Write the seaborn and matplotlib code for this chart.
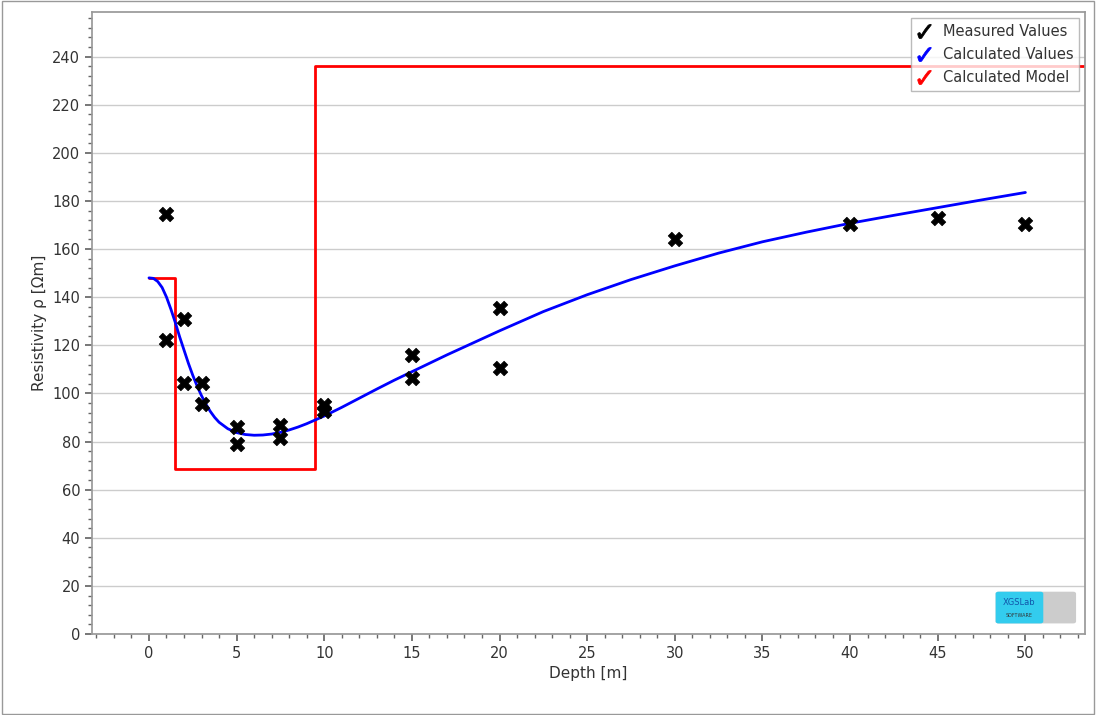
import matplotlib
matplotlib.use("Agg")
import matplotlib.pyplot as plt
import seaborn as sns
from matplotlib.lines import Line2D
from matplotlib.patches import FancyBboxPatch
from matplotlib.ticker import MultipleLocator

meas_x = [1, 1, 2, 2, 3, 3, 5, 5, 7.5, 7.5, 10, 10, 15, 15, 20, 20, 30, 40, 45, 50]
meas_y = [174.5, 122, 131, 104.5, 104.5, 95.5, 86, 79, 87, 81.5, 95, 92.5, 116, 106.5, 135.5, 110.5, 164, 170.5, 173, 170.5]
calc_x = [0, 0.25, 0.5, 0.75, 1, 1.25, 1.5, 1.75, 2, 2.25, 2.5, 2.75, 3, 3.25, 3.5, 3.75, 4, 4.5, 5, 5.5, 6,
          6.5, 7, 7.5, 8, 8.5, 9, 9.5, 10, 11, 12, 13, 14, 15, 17, 20, 22.5, 25, 27.5, 30, 32.5, 35, 37.5, 40,
          42.5, 45, 47.5, 50]
calc_y = [148, 147.8, 146.5, 144, 140, 135, 129.5, 123.5, 118, 112.5, 107.5, 103, 99, 95.5, 92.5, 90, 88, 85.3,
          83.7, 82.9, 82.6, 82.7, 83.1, 83.8, 84.8, 86, 87.4, 89, 90.6, 94.2, 98, 101.8, 105.5, 109, 116, 126,
          134, 141, 147.3, 153, 158.3, 163, 167, 170.7, 174, 177.2, 180.4, 183.5]
model_x = [0, 1.5, 1.5, 9.5, 9.5, 53.4]
model_y = [148, 148, 68.5, 68.5, 236, 236]

sns.set_theme(style="white")
plt.rcParams['font.family'] = ['DejaVu Sans']
fig = plt.figure(figsize=(10.96, 7.15), dpi=100)
fig.patch.set_facecolor("white")
ax = fig.add_axes([92/1096, 1-634/715, (1085-92)/1096, (634-12)/715])
ax.set_xlim(-3.25, 53.4)
ax.set_ylim(0, 258.5)
ax.yaxis.grid(True, color="#cccccc", lw=1)
ax.set_axisbelow(True)

sns.lineplot(x=model_x, y=model_y, ax=ax, color="red", lw=2, sort=False, estimator=None)
sns.lineplot(x=calc_x, y=calc_y, ax=ax, color="blue", lw=2, sort=False, estimator=None)
sns.scatterplot(x=meas_x, y=meas_y, ax=ax, marker="X", s=110, color="black", edgecolor="black", linewidth=0.5, zorder=5)

ax.set_xticks(range(0, 51, 5))
ax.set_yticks(range(0, 241, 20))
ax.xaxis.set_minor_locator(MultipleLocator(1))
ax.yaxis.set_minor_locator(MultipleLocator(4))
ax.tick_params(which="both", direction="out", colors="#666666", labelcolor="#333333", labelsize=10.5, bottom=True, left=True)
ax.tick_params(which="major", length=5)
ax.tick_params(which="minor", length=3)
for s in ax.spines.values():
    s.set_color("#999999")
ax.set_xlabel("Depth [m]", fontsize=11, color="#333333")
ax.set_ylabel("Resistivity ρ [Ωm]", fontsize=11, color="#333333")

handles = [Line2D([], [], ls="", marker=r"$\checkmark$", color=c, markersize=10,
                  markeredgewidth=0.6) for c in ["black", "blue", "red"]]
leg = ax.legend(handles, ["Measured Values", "Calculated Values", "Calculated Model"],
                loc="upper right", fontsize=10.5, frameon=True, fancybox=False,
                handlelength=1.0, borderaxespad=0.4, labelspacing=0.55)
leg.get_frame().set_edgecolor("#aaaaaa")
for t in leg.get_texts():
    t.set_color("#333333")

ax.add_patch(FancyBboxPatch((0.913, 0.02), 0.075, 0.045, transform=ax.transAxes,
                            boxstyle="round,pad=0.003", fc="#cccccc", ec="none"))
ax.add_patch(FancyBboxPatch((0.913, 0.02), 0.042, 0.045, transform=ax.transAxes,
                            boxstyle="round,pad=0.003", fc="#33ccee", ec="none"))
ax.text(0.934, 0.047, "XGSLab", transform=ax.transAxes, fontsize=6, ha="center", color="#1155aa")
ax.text(0.934, 0.028, "SOFTWARE", transform=ax.transAxes, fontsize=3.5, ha="center", color="#333333")

fig.add_artist(plt.Rectangle((0.002, 0.002), 0.996, 0.996, transform=fig.transFigure, fill=False, ec="#999999", lw=1))
fig.savefig("out.png", dpi=100)
